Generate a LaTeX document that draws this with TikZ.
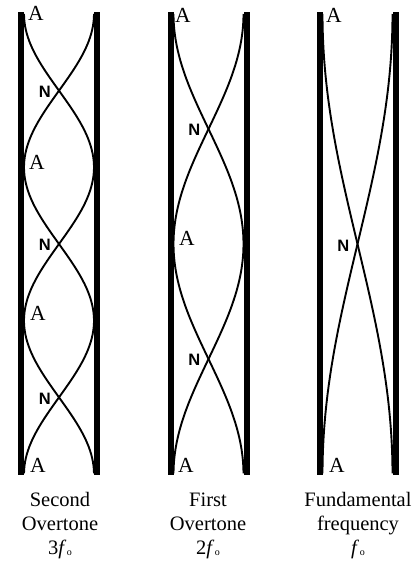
\documentclass[tikz,border=0pt]{standalone}
\usepackage{fontspec}
\setmainfont{Liberation Serif}
\newfontfamily\nodefont{Liberation Sans}
\usetikzlibrary{positioning}

\tikzset{
  wall/.style={line width=6pt},
  wave/.style={line width=1.9pt},
  alabel/.style={font=\fontsize{21.5}{21.5}\selectfont, inner sep=0pt, anchor=north west},
  nlabel/.style={font=\nodefont\bfseries\fontsize{16.5}{16.5}\selectfont, inner sep=0pt},
  caption/.style={font=\fontsize{20.5}{24}\selectfont, align=center, inner sep=0pt}
}
\newcommand{\fzero}{\textit{f}\kern0.5pt\raisebox{-0.5pt}{\fontsize{10}{10}\selectfont o}}

\begin{document}
\begin{tikzpicture}[x=1pt,y=-1pt]
\useasboundingbox (0,0) rectangle (417,562);

% tubes: centre / half waves
\foreach \c/\n in {59/3, 208.5/2, 357.5/1}{
  \draw[wall] (\c-38,12) -- (\c-38,475);
  \draw[wall] (\c+38,12) -- (\c+38,475);
  \draw[wave] plot[domain=0:1, samples=120, variable=\s]
    ({\c+35*cos(\n*180*\s)}, {14+460*\s});
  \draw[wave] plot[domain=0:1, samples=120, variable=\s]
    ({\c-35*cos(\n*180*\s)}, {14+460*\s});
}

% crossing points
\coordinate (ka) at (59,90.7);
\coordinate (kb) at (59,244);
\coordinate (kc) at (59,397.3);
\coordinate (kd) at (208.5,129);
\coordinate (ke) at (208.5,359);
\coordinate (kf) at (357.5,244);

% antinodes
\node[alabel] (aa) at (28,6) {A};
\node[alabel] (ab) at (29,155) {A};
\node[alabel] (ac) at (30,306) {A};
\node[alabel] (ad) at (30,458) {A};
\node[alabel] (ae) at (175,8) {A};
\node[alabel] (af) at (179,231) {A};
\node[alabel] (ag) at (178,458) {A};
\node[alabel] (ah) at (326,8) {A};
\node[alabel] (ai) at (329,458) {A};

% nodes
\node[nlabel, left=8pt of ka, yshift=-1pt] (na) {N};
\node[nlabel, left=8pt of kb, yshift=-1pt] (nb) {N};
\node[nlabel, left=8pt of kc, yshift=-2pt] (nc) {N};
\node[nlabel, left=8pt of kd, yshift=-1pt] (nd) {N};
\node[nlabel, left=8pt of ke, yshift=-1pt] (ne) {N};
\node[nlabel, left=8pt of kf, yshift=-2pt] (nf) {N};

% captions
\node[caption] (capa) at (60,526) {Second\\Overtone\\3\fzero};
\node[caption] (capb) at (208,526) {First\\Overtone\\2\fzero};
\node[caption] (capc) at (358,526) {Fundamental\\frequency\\\fzero};
\end{tikzpicture}
\end{document}
